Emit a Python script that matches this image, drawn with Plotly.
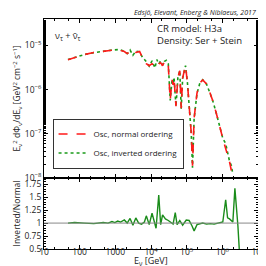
import plotly.graph_objects as go
from plotly.subplots import make_subplots

# ---- data ----
energy_gev = [47, 72, 134, 248, 459, 851, 1312, 1787, 2150, 2587, 3112, 3749, 4797, 5770,
              7390, 8895, 10700, 12880, 14580, 16490, 18660, 21090, 23880, 27040, 30550,
              34590, 39080, 41590, 44260, 50120, 56620, 64120, 70310, 77090, 92900, 105000,
              118800, 134600, 145900, 161800, 195000, 234400, 281800, 361400, 462400,
              555900, 712800, 857000, 1030000, 1241000, 1403000, 1589000, 1799000, 1972000]
flux_normal = [4.78e-6, 5.31e-6, 6.22e-6, 6.92e-6, 7.48e-6, 7.89e-6, 7.89e-6, 7.29e-6, 6.56e-6,
               7.29e-6, 6.22e-6, 6.92e-6, 7.29e-6, 5.31e-6, 3.87e-6, 3.48e-6, 3.87e-6, 3.48e-6,
               3.14e-6, 3.87e-6, 4.08e-6, 3.48e-6, 4.31e-6, 4.54e-6, 3.48e-6, 5.81e-7, 1.67e-6,
               1.28e-6, 1.85e-6, 4.24e-7, 1.85e-6, 2.68e-6, 3.81e-7, 1.85e-6, 3.48e-6, 1.42e-6,
               3.81e-7, 1.02e-7, 1.89e-8, 2.25e-7, 8.39e-7, 1.42e-6, 1.67e-6, 1.35e-6, 7.98e-7,
               5.24e-7, 2.50e-7, 1.33e-7, 7.85e-8, 4.63e-8, 3.38e-8, 2.34e-8, 1.45e-8, 9.5e-9]
flux_inverted = [4.80e-6, 5.33e-6, 6.22e-6, 6.90e-6, 7.50e-6, 7.90e-6, 8.10e-6, 7.40e-6, 6.56e-6,
                 7.90e-6, 6.00e-6, 7.50e-6, 7.20e-6, 5.40e-6, 4.30e-6, 3.40e-6, 4.50e-6, 3.10e-6,
                 4.80e-6, 3.80e-6, 4.50e-6, 3.60e-6, 4.40e-6, 4.60e-6, 3.90e-6, 5.70e-7, 1.70e-6,
                 1.30e-6, 1.90e-6, 4.20e-7, 1.85e-6, 2.70e-6, 3.70e-7, 1.80e-6, 3.50e-6, 1.45e-6,
                 3.80e-7, 9.80e-8, 1.70e-8, 2.20e-7, 8.30e-7, 1.41e-6, 1.67e-6, 1.33e-6, 7.90e-7,
                 5.20e-7, 2.50e-7, 1.35e-7, 7.90e-8, 6.00e-8, 3.70e-8, 2.40e-8, 1.90e-8, 1.2e-8]

ratio_energy = [47, 72, 134, 248, 459, 627, 805, 970, 1167, 1405, 1787, 2150, 2587, 3112, 3749,
                4513, 5432, 6540, 7390, 8895, 10700, 13860, 16490, 18660, 21090, 25340, 30550,
                36150, 41590, 47880, 53850, 64120, 77090, 97350, 117000, 140600, 161800, 195000,
                242300, 281800, 361400, 462400, 587400, 760000, 1030000, 1241000, 1403000,
                1589000, 1972000, 2250000, 2732000, 3101000]
ratio_inv_norm = [1.0, 1.01, 1.0, 0.99, 1.01, 1.0, 1.03, 1.01, 1.04, 1.02, 1.06, 1.0, 1.09, 0.96,
                  1.1, 1.0, 0.98, 1.02, 1.14, 0.97, 1.19, 0.9, 1.54, 0.97, 1.16, 1.08, 1.05,
                  1.02, 0.98, 1.2, 0.97, 1.05, 0.96, 1.06, 1.05, 0.95, 0.85, 0.97, 0.99, 1.0,
                  0.98, 0.99, 0.98, 1.0, 1.02, 1.45, 1.1, 1.08, 1.02, 1.67, 0.95, 0.3]

x_tickvals = [10, 100, 1000, 1e4, 1e5, 1e6, 1e7]
x_ticktext = ["10", "100", "1000", "10<sup>4</sup>", "10<sup>5</sup>", "10<sup>6</sup>", "10<sup>7</sup>"]
y_tickvals = [1e-8, 1e-7, 1e-6, 1e-5]
y_ticktext = ["10<sup>−8</sup>", "10<sup>−7</sup>", "10<sup>−6</sup>", "10<sup>−5</sup>"]
r_tickvals = [0.5, 0.75, 1, 1.25, 1.5, 1.75]
r_ticktext = ["0.5", "0.75", "1", "1.25", "1.5", "1.75"]

FONT = "Open Sans, DejaVu Sans, sans-serif"

fig = make_subplots(rows=2, cols=1, shared_xaxes=True, vertical_spacing=0,
                    row_heights=[159, 71])

fig.add_trace(go.Scatter(x=energy_gev, y=flux_inverted, mode="lines",
                         line=dict(color="#1a9a1a", width=1.6, dash="dot"),
                         name="Osc, inverted ordering"), row=1, col=1)
fig.add_trace(go.Scatter(x=energy_gev, y=flux_normal, mode="lines",
                         line=dict(color="#ff1a1a", width=1.6, dash="dash"),
                         name="Osc, normal ordering"), row=1, col=1)
fig.add_trace(go.Scatter(x=ratio_energy, y=ratio_inv_norm, mode="lines",
                         line=dict(color="#1a8c1a", width=1.4),
                         showlegend=False), row=2, col=1)

axis_common = dict(showline=True, linecolor="black", linewidth=1, mirror="ticks",
                   ticks="inside", ticklen=4, tickcolor="black", showgrid=False,
                   zeroline=False, tickfont=dict(size=8.5, color="#222", family=FONT))

fig.update_xaxes(type="log", range=[1, 7], tickvals=x_tickvals, ticktext=x_ticktext,
                 minor=dict(ticks="inside", ticklen=2, tickcolor="black", showgrid=False),
                 **axis_common)
fig.update_xaxes(showticklabels=False, row=1, col=1)
fig.update_xaxes(ticklabelstandoff=-5, row=2, col=1)
fig.update_yaxes(type="log", range=[-8, -4.4], tickvals=y_tickvals, ticktext=y_ticktext,
                 minor=dict(ticks="inside", ticklen=2, tickcolor="black", showgrid=False),
                 title=dict(text="E<sub>ν</sub><sup>2</sup> dΦ<sub>ν</sub>/dE<sub>ν</sub> [GeV<sup>2</sup> cm<sup>−2</sup> s<sup>−1</sup>]",
                            font=dict(size=8.5, family=FONT, color="#222"), standoff=2),
                 row=1, col=1, **axis_common)
fig.update_yaxes(range=[0.5, 1.87], tickvals=r_tickvals, ticktext=r_ticktext,
                 minor=dict(ticks="inside", ticklen=2, tickcolor="black", dtick=0.05, showgrid=False),
                 title=dict(text="Inverted/Normal", font=dict(size=8.5, family=FONT, color="#222"),
                            standoff=2),
                 row=2, col=1, **axis_common)

fig.add_hline(y=1, line=dict(color="#888", width=1), row=2, col=1)

fig.add_annotation(text="E<sub>ν</sub> [GeV]", xref="paper", yref="paper",
                   x=0.5, y=-0.054, xanchor="center", yanchor="middle", showarrow=False,
                   font=dict(size=9, family=FONT, color="#222"))
fig.add_annotation(text="ν<sub>τ</sub> + ν̄<sub>τ</sub>", xref="paper", yref="paper",
                   x=0.04, y=0.965, xanchor="left", yanchor="top", showarrow=False,
                   font=dict(size=9, family=FONT, color="#222"))
fig.add_annotation(text="CR model: H3a<br>Density: Ser + Stein", xref="paper", yref="paper",
                   x=0.52, y=0.995, xanchor="left", yanchor="top", showarrow=False, align="left",
                   font=dict(size=9.5, family=FONT, color="#222"))
fig.add_annotation(text="<i>Edsjö, Elevant, Enberg &amp; Niblaeus, 2017</i>", xref="paper", yref="paper",
                   x=1.0, y=1.0, xanchor="right", yanchor="bottom", yshift=0, showarrow=False,
                   font=dict(size=7, family=FONT, color="#222"))

fig.update_layout(
    width=266, height=266,
    margin=dict(l=33, r=9, t=11, b=25),
    paper_bgcolor="white", plot_bgcolor="white",
    showlegend=True,
    legend=dict(x=0.04, y=0.35, xanchor="left", yanchor="bottom",
                bgcolor="white", bordercolor="#333", borderwidth=1,
                font=dict(size=8, family=FONT, color="#222"),
                traceorder="reversed", tracegroupgap=0, itemwidth=30),
)

fig.write_html("out.html")
